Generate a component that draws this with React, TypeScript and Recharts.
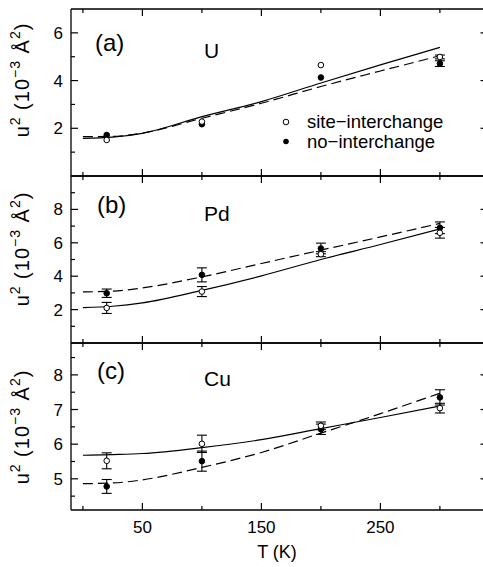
import React from "react";
import { ComposedChart, Line, Scatter, XAxis, YAxis, ErrorBar } from "recharts";

const FONT = "'Liberation Sans', Arial, sans-serif";

// temperatures
const T_MEAS = [20, 100, 200, 300];
const T_FIT = [0, 25, 50, 100, 150, 200, 250, 300];
const X_TICKS = [0, 50, 100, 150, 200, 250, 300];
const X_MAJOR = [50, 150, 250];

// (a) U
const U_SITE = [1.51, 2.28, 4.65, 4.99];
const U_SITE_ERR = [null, null, null, 0.08];
const U_NO = [1.72, 2.17, 4.13, 4.71];
const U_NO_ERR = [null, null, null, 0.12];
const U_FIT_SITE = [1.58, 1.63, 1.79, 2.49, 3.12, 3.9, 4.66, 5.39];
const U_FIT_NO = [1.65, 1.66, 1.8, 2.42, 3.05, 3.75, 4.4, 5.04];

// (b) Pd
const PD_SITE = [2.1, 3.08, 5.32, 6.6];
const PD_SITE_ERR = [0.33, 0.3, 0.15, 0.32];
const PD_NO = [2.98, 4.08, 5.66, 6.9];
const PD_NO_ERR = [0.25, 0.42, 0.32, 0.35];
const PD_FIT_SITE = [2.12, 2.2, 2.4, 3.15, 4.02, 5.0, 5.9, 6.83];
const PD_FIT_NO = [3.06, 3.1, 3.3, 3.96, 4.76, 5.56, 6.35, 7.16];

// (c) Cu
const CU_SITE = [5.52, 6.01, 6.53, 7.04];
const CU_SITE_ERR = [0.23, 0.25, 0.11, 0.14];
const CU_NO = [4.78, 5.51, 6.43, 7.35];
const CU_NO_ERR = [0.2, 0.29, 0.15, 0.22];
const CU_FIT_SITE = [5.68, 5.7, 5.73, 5.9, 6.13, 6.45, 6.77, 7.1];
const CU_FIT_NO = [4.86, 4.88, 4.97, 5.33, 5.76, 6.32, 6.88, 7.47];

const A_TICKS = [1, 2, 3, 4, 5, 6];
const A_MAJOR = [2, 4, 6];
const B_TICKS = [1, 2, 3, 4, 5, 6, 7, 8, 9];
const B_MAJOR = [2, 4, 6, 8];
const C_TICKS = [4.5, 5, 5.5, 6, 6.5, 7, 7.5, 8, 8.5];
const C_MAJOR = [5, 6, 7, 8];

const makeXTick = (dir: number, labels: boolean) => (props: any) => {
  const { x, y, payload } = props;
  const v = payload.value;
  const major = X_MAJOR.includes(v);
  const len = major ? 7 : 4;
  return (
    <g>
      <line x1={x} x2={x} y1={y} y2={y + dir * len} stroke="#000" strokeWidth={1.2} />
      {labels && major && (
        <text x={x} y={y + 23} textAnchor="middle" fontSize={17} fontFamily={FONT} fill="#000">
          {v}
        </text>
      )}
    </g>
  );
};

const makeYTick = (dir: number, major: number[], labels: boolean) => (props: any) => {
  const { x, y, payload } = props;
  const v = payload.value;
  const isMajor = major.includes(v);
  const len = isMajor ? 7 : 4;
  return (
    <g>
      <line x1={x} x2={x + dir * len} y1={y} y2={y} stroke="#000" strokeWidth={1.2} />
      {labels && isMajor && (
        <text x={x - 8} y={y + 6} textAnchor="end" fontSize={17} fontFamily={FONT} fill="#000">
          {v}
        </text>
      )}
    </g>
  );
};

const openDot = (p: any) => <circle cx={p.cx} cy={p.cy} r={2.8} fill="#fff" stroke="#000" strokeWidth={1} />;
const fillDot = (p: any) => <circle cx={p.cx} cy={p.cy} r={2.8} fill="#000" stroke="#000" strokeWidth={1} />;

type PanelProps = {
  top: number;
  bottomH: number;
  domain: [number, number];
  yTicks: number[];
  yMajor: number[];
  fitSite: number[];
  fitNo: number[];
  site: number[];
  siteErr: (number | null)[];
  no: number[];
  noErr: (number | null)[];
  showX: boolean;
};

function Panel(p: PanelProps) {
  const fitSiteData = T_FIT.map((T, i) => ({ T, v: p.fitSite[i] }));
  const fitNoData = T_FIT.map((T, i) => ({ T, v: p.fitNo[i] }));
  const siteData = T_MEAS.map((T, i) => ({ T, v: p.site[i], e: p.siteErr[i] }));
  const noData = T_MEAS.map((T, i) => ({ T, v: p.no[i], e: p.noErr[i] }));
  const height = 9 + 167 + p.bottomH;
  const axisLine = { stroke: "#000", strokeWidth: 1.3 };
  return (
    <div style={{ position: "absolute", left: 0, top: p.top }}>
      <ComposedChart width={490} height={height} margin={{ top: 8, right: 1.5, left: 41, bottom: 0 }}>
        <XAxis
          xAxisId="b"
          type="number"
          dataKey="T"
          domain={[-10, 340]}
          ticks={X_TICKS}
          interval={0}
          allowDataOverflow
          height={p.bottomH}
          tickSize={0}
          tickMargin={0}
          tickLine={false}
          axisLine={axisLine}
          tick={makeXTick(-1, p.showX)}
        />
        <XAxis
          xAxisId="t"
          orientation="top"
          type="number"
          dataKey="T"
          domain={[-10, 340]}
          ticks={X_TICKS}
          interval={0}
          allowDataOverflow
          height={1}
          tickSize={0}
          tickMargin={0}
          tickLine={false}
          axisLine={axisLine}
          tick={makeXTick(1, false)}
        />
        <YAxis
          yAxisId="l"
          type="number"
          dataKey="v"
          domain={p.domain}
          ticks={p.yTicks}
          interval={0}
          allowDataOverflow
          width={30}
          tickSize={0}
          tickMargin={0}
          tickLine={false}
          axisLine={axisLine}
          tick={makeYTick(1, p.yMajor, true)}
        />
        <YAxis
          yAxisId="r"
          orientation="right"
          type="number"
          dataKey="v"
          domain={p.domain}
          ticks={p.yTicks}
          interval={0}
          allowDataOverflow
          width={1}
          tickSize={0}
          tickMargin={0}
          tickLine={false}
          axisLine={axisLine}
          tick={makeYTick(-1, p.yMajor, false)}
        />
        <Line
          xAxisId="b"
          yAxisId="l"
          data={fitSiteData}
          dataKey="v"
          type="monotone"
          stroke="#000"
          strokeWidth={1.2}
          dot={false}
          activeDot={false}
          isAnimationActive={false}
        />
        <Line
          xAxisId="b"
          yAxisId="l"
          data={fitNoData}
          dataKey="v"
          type="monotone"
          stroke="#000"
          strokeWidth={1.2}
          strokeDasharray="10 5"
          dot={false}
          activeDot={false}
          isAnimationActive={false}
        />
        <Scatter xAxisId="b" yAxisId="l" data={noData} dataKey="v" shape={fillDot} isAnimationActive={false}>
          <ErrorBar dataKey="e" direction="y" width={5} stroke="#000" strokeWidth={1.1} />
        </Scatter>
        <Scatter xAxisId="b" yAxisId="l" data={siteData} dataKey="v" shape={openDot} isAnimationActive={false}>
          <ErrorBar dataKey="e" direction="y" width={5} stroke="#000" strokeWidth={1.1} />
        </Scatter>
      </ComposedChart>
    </div>
  );
}

const YTitle = ({ cy }: { cy: number }) => (
  <text transform={`translate(29, ${cy}) rotate(-90)`} textAnchor="middle" fontSize={20} fontFamily={FONT} fill="#000" letterSpacing={1}>
    <tspan>u</tspan>
    <tspan fontSize={14} dy={-9}>2</tspan>
    <tspan dy={9}> (10</tspan>
    <tspan fontSize={14} dy={-9}>−3</tspan>
    <tspan dy={9}> Å</tspan>
    <tspan fontSize={14} dy={-9}>2</tspan>
    <tspan dy={9}>)</tspan>
  </text>
);

export default function App() {
  return (
    <div style={{ position: "absolute", left: 0, top: 0, width: 483, height: 567, overflow: "hidden", background: "#fff" }}>
      <Panel top={0} bottomH={1} domain={[0, 7]} yTicks={A_TICKS} yMajor={A_MAJOR}
        fitSite={U_FIT_SITE} fitNo={U_FIT_NO} site={U_SITE} siteErr={U_SITE_ERR} no={U_NO} noErr={U_NO_ERR} showX={false} />
      <Panel top={167} bottomH={1} domain={[0, 10]} yTicks={B_TICKS} yMajor={B_MAJOR}
        fitSite={PD_FIT_SITE} fitNo={PD_FIT_NO} site={PD_SITE} siteErr={PD_SITE_ERR} no={PD_NO} noErr={PD_NO_ERR} showX={false} />
      <Panel top={334} bottomH={57} domain={[4.1, 8.92]} yTicks={C_TICKS} yMajor={C_MAJOR}
        fitSite={CU_FIT_SITE} fitNo={CU_FIT_NO} site={CU_SITE} siteErr={CU_SITE_ERR} no={CU_NO} noErr={CU_NO_ERR} showX={true} />
      <svg width={483} height={567} style={{ position: "absolute", left: 0, top: 0, pointerEvents: "none" }}>
        <YTitle cy={80} />
        <YTitle cy={249} />
        <YTitle cy={427} />
        <text x={95} y={51} fontSize={24} fontFamily={FONT}>(a)</text>
        <text x={204} y={58} fontSize={21} fontFamily={FONT}>U</text>
        <text x={97} y={213} fontSize={24} fontFamily={FONT}>(b)</text>
        <text x={204} y={221} fontSize={21} fontFamily={FONT}>Pd</text>
        <text x={97} y={379} fontSize={24} fontFamily={FONT}>(c)</text>
        <text x={204} y={386} fontSize={21} fontFamily={FONT}>Cu</text>
        <circle cx={286} cy={122} r={2.8} fill="#fff" stroke="#000" strokeWidth={1} />
        <text x={307} y={128} fontSize={18.5} fontFamily={FONT}>site−interchange</text>
        <circle cx={286} cy={141.5} r={2.8} fill="#000" />
        <text x={307} y={147.5} fontSize={18.5} fontFamily={FONT}>no−interchange</text>
        <text x={277} y={558} textAnchor="middle" fontSize={18} fontFamily={FONT}>T (K)</text>
      </svg>
    </div>
  );
}
